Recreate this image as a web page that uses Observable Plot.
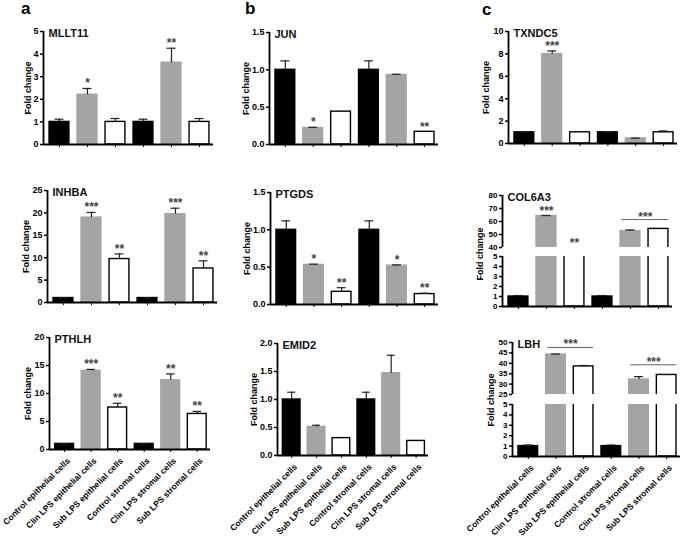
<!DOCTYPE html>
<html><head><meta charset="utf-8">
<script src="https://cdn.jsdelivr.net/npm/d3@7"></script>
<script src="https://cdn.jsdelivr.net/npm/@observablehq/plot@0.6"></script>
<style>
body{margin:0;background:#fff;}
#fig{position:relative;width:685px;height:538px;overflow:hidden;background:#fff;font-family:"Liberation Sans",Arial,sans-serif;}
#fig svg{position:absolute;overflow:visible;}
.letter{position:absolute;font-weight:bold;font-size:17px;line-height:1;}
.ylab{position:absolute;font-weight:bold;font-size:9px;white-space:nowrap;transform:translate(-50%,-50%) rotate(-90deg);}
</style></head><body><div id="fig"></div>
<script>
const categories = ["Control epithelial cells","Clin LPS epithelial cells","Sub LPS epithelial cells","Control stromal cells","Clin LPS stromal cells","Sub LPS stromal cells"];

const mllt11Mean = [1.0, 2.2, 1.0, 1.0, 3.62, 1.0];
const mllt11Err  = [0.12, 0.28, 0.15, 0.12, 0.64, 0.15];
const mllt11Stars = ["", "*", "", "", "**", ""];

const inhbaMean = [1.0, 18.95, 9.7, 1.0, 19.7, 7.6];
const inhbaErr  = [0.05, 1.15, 1.15, 0.05, 1.35, 1.7];
const inhbaStars = ["", "***", "**", "", "***", "**"];

const pthlhMean = [1.0, 14.05, 7.5, 1.0, 12.35, 6.35];
const pthlhErr  = [0.03, 0.25, 0.75, 0.03, 1.15, 0.45];
const pthlhStars = ["", "***", "**", "", "**", "**"];

const junMean = [1.0, 0.22, 0.44, 1.0, 0.93, 0.17];
const junErr  = [0.12, 0.01, 0, 0.12, 0.01, 0];
const junStars = ["", "*", "", "", "", "**"];

const ptgdsMean = [1.0, 0.53, 0.17, 1.0, 0.52, 0.14];
const ptgdsErr  = [0.12, 0.01, 0.055, 0.12, 0.01, 0.01];
const ptgdsStars = ["", "*", "**", "", "*", "**"];

const emid2Mean = [1.0, 0.51, 0.31, 1.0, 1.47, 0.26];
const emid2Err  = [0.13, 0.03, 0, 0.13, 0.32, 0];
const emid2Stars = ["", "", "", "", "", ""];

const txndc5Mean = [1.0, 7.98, 1.0, 1.0, 0.45, 1.0];
const txndc5Err  = [0.05, 0.28, 0, 0.05, 0.03, 0.12];
const txndc5Stars = ["", "***", "", "", "", ""];

const col6a3Mean = [1.0, 64.2, 30, 1.0, 52.6, 54.3];
const col6a3Err  = [0.1, 0.4, 0, 0.1, 0.9, 0];
const col6a3Stars = ["", "***", "**", "", "", ""];
const col6a3Brackets = [{from: 4, to: 5, y: 61.5, s: "***"}];

const lbhMean = [1.0, 44.2, 38.5, 1.0, 32.2, 34.4];
const lbhErr  = [0.1, 0.25, 0.45, 0.1, 1.4, 0.2];
const lbhStars = ["", "", "", "", "", ""];
const lbhBrackets = [{from: 1, to: 2, y: 47.6, s: "***"}, {from: 4, to: 5, y: 39.3, s: "***"}];

// style constants
const XD = [-0.57, 5.5];
const HW = 0.355, CAP = 0.16;
const FILLS = ["#000000", "#a4a4a4", "#ffffff"];
const STROKES = ["#000000", "#a4a4a4", "#000000"];

const fig = document.getElementById("fig");

function drawPanel(p) {
  const rows = categories.map((c, i) => ({i, c, v: p.mean[i], e: p.err[i], top: p.mean[i] + p.err[i], s: p.stars ? p.stars[i] : ""}));
  const ml = 55, mr = 8, mt = 10;
  const mb = p.xLabels ? 90 : (p.seg === "upper" ? 2 : 10);
  const lo = p.domain[0];
  const marks = [
    Plot.rectY(rows, {x1: d => d.i - HW, x2: d => d.i + HW, y1: () => 0, y2: "v",
      fill: d => FILLS[d.i % 3], stroke: d => STROKES[d.i % 3], strokeWidth: 1.4, clip: true}),
    Plot.ruleX(rows.filter(d => d.e > 0), {x: "i", y1: "v", y2: "top", stroke: "#222", strokeWidth: 1.2, clip: true}),
    Plot.ruleY(rows.filter(d => d.e > 0), {y: "top", x1: d => d.i - CAP, x2: d => d.i + CAP, stroke: "#222", strokeWidth: 1.2, clip: true}),
    Plot.ruleX([XD[0]], {stroke: "#000", strokeWidth: 1.8}),
    Plot.axisY({ticks: p.ticks, tickSize: 3, tickPadding: 2, tickFormat: p.fmt || (d => String(d)),
      fontSize: p.seg ? 8 : 9,
      label: p.ylabel ? "Fold change" : null, labelAnchor: "center", labelOffset: p.labelOffset, labelArrow: "none",
      strokeWidth: 1.5})
  ];
  if (p.seg !== "upper") {
    marks.push(Plot.ruleY([0], {stroke: "#000", strokeWidth: 1.8}));
    marks.push(Plot.axisX({ticks: [0,1,2,3,4,5], tickSize: 3, tickFormat: () => "", label: null, strokeWidth: 1}));
    if (p.xLabels) {
      marks.push(Plot.axisX({ticks: [0,1,2,3,4,5], tickSize: 0, tickPadding: 9, tickFormat: i => categories[i],
        tickRotate: -45, label: null, fontSize: 8.5, dx: 4, dy: 1}));
    }
  }
  if (p.gene) {
    marks.push(Plot.text([p.gene], {text: d => d, frameAnchor: "top-left", textAnchor: "start", lineAnchor: "top",
      dx: 5, dy: -2, fontSize: 11, fontWeight: "bold", fill: "#111"}));
  }
  if (p.showStars) {
    marks.push(Plot.text(rows.filter(d => d.s), {x: "i", y: d => Math.max(d.top, lo), text: "s",
      lineAnchor: "bottom", dy: -1, fontSize: 12, fill: "#444"}));
  }
  if (p.brackets) {
    marks.push(Plot.ruleY(p.brackets, {y: "y", x1: d => d.from - 0.3, x2: d => d.to + 0.36, stroke: "#666", strokeWidth: 1}));
    marks.push(Plot.text(p.brackets, {x: d => (d.from + d.to) / 2 + 0.03, y: "y", text: "s", lineAnchor: "bottom", dy: 1, fontSize: 12, fill: "#444"}));
  }
  const svg = Plot.plot({
    width: p.x1 - p.x0 + ml + mr,
    height: p.yBot - p.yTop + mt + mb,
    marginLeft: ml, marginRight: mr, marginTop: mt, marginBottom: mb,
    x: {domain: XD, axis: null},
    y: {domain: p.domain, axis: null},
    color: {type: "identity"},
    style: {background: "transparent", overflow: "visible", fontFamily: "'Liberation Sans', Arial, sans-serif",
      fontSize: "9px", fontWeight: "bold", color: "#000"},
    marks
  });
  svg.style.position = "absolute";
  svg.style.left = (p.x0 - ml) + "px";
  svg.style.top = (p.yTop - mt) + "px";
  svg.style.maxWidth = "none";
  fig.appendChild(svg);
}

const f1 = d3.format(".1f");
const panels = [
  {gene: "MLLT11", mean: mllt11Mean, err: mllt11Err, stars: mllt11Stars, x0: 43, x1: 213, yTop: 31, yBot: 144, domain: [0, 5], ticks: [0,1,2,3,4,5], ylabel: true, labelOffset: 19},
  {gene: "INHBA", mean: inhbaMean, err: inhbaErr, stars: inhbaStars, x0: 47, x1: 217, yTop: 190, yBot: 302, domain: [0, 25], ticks: [0,5,10,15,20,25], ylabel: true, labelOffset: 25},
  {gene: "PTHLH", mean: pthlhMean, err: pthlhErr, stars: pthlhStars, x0: 49, x1: 210, yTop: 337, yBot: 449, domain: [0, 20], ticks: [0,5,10,15,20], ylabel: true, labelOffset: 25, xLabels: true},
  {gene: "JUN", mean: junMean, err: junErr, stars: junStars, x0: 269, x1: 438, yTop: 32, yBot: 144, domain: [0, 1.5], ticks: [0,0.5,1,1.5], fmt: f1, ylabel: true, labelOffset: 27},
  {gene: "PTGDS", mean: ptgdsMean, err: ptgdsErr, stars: ptgdsStars, x0: 270, x1: 438, yTop: 192, yBot: 304, domain: [0, 1.5], ticks: [0,0.5,1,1.5], fmt: f1, ylabel: true, labelOffset: 27},
  {gene: "EMID2", mean: emid2Mean, err: emid2Err, stars: emid2Stars, x0: 277, x1: 428, yTop: 343, yBot: 455, domain: [0, 2], ticks: [0,0.5,1,1.5,2], fmt: f1, ylabel: true, labelOffset: 27, xLabels: true},
  {gene: "TXNDC5", mean: txndc5Mean, err: txndc5Err, stars: txndc5Stars, x0: 508, x1: 677, yTop: 31, yBot: 143, domain: [0, 10], ticks: [0,2,4,6,8,10], ylabel: true, labelOffset: 26},
  {gene: "COL6A3", seg: "upper", mean: col6a3Mean, err: col6a3Err, stars: col6a3Stars, brackets: col6a3Brackets, x0: 502, x1: 672, yTop: 195, yBot: 247, domain: [40, 80], ticks: [40,50,60,70,80]},
  {seg: "lower", mean: col6a3Mean, err: col6a3Err, x0: 502, x1: 672, yTop: 256, yBot: 306, domain: [0, 5], ticks: [0,1,2,3,4,5]},
  {gene: "LBH", seg: "upper", mean: lbhMean, err: lbhErr, stars: lbhStars, brackets: lbhBrackets, x0: 512, x1: 680, yTop: 342, yBot: 394, domain: [25, 50], ticks: [25,30,35,40,45,50]},
  {seg: "lower", mean: lbhMean, err: lbhErr, x0: 512, x1: 680, yTop: 404, yBot: 456, domain: [0, 5], ticks: [0,1,2,3,4,5], xLabels: true}
];
for (const p of panels) { p.showStars = p.seg !== "lower"; drawPanel(p); }

function addDiv(cls, text, left, top) {
  const d = document.createElement("div");
  d.className = cls; d.textContent = text;
  d.style.left = left + "px"; d.style.top = top + "px";
  fig.appendChild(d);
}
addDiv("letter", "a", 21, 0);
addDiv("letter", "b", 245, 0);
addDiv("letter", "c", 482, 1);
addDiv("ylab", "Fold change", 480, 254);
addDiv("ylab", "Fold change", 491, 400);
</script></body></html>
